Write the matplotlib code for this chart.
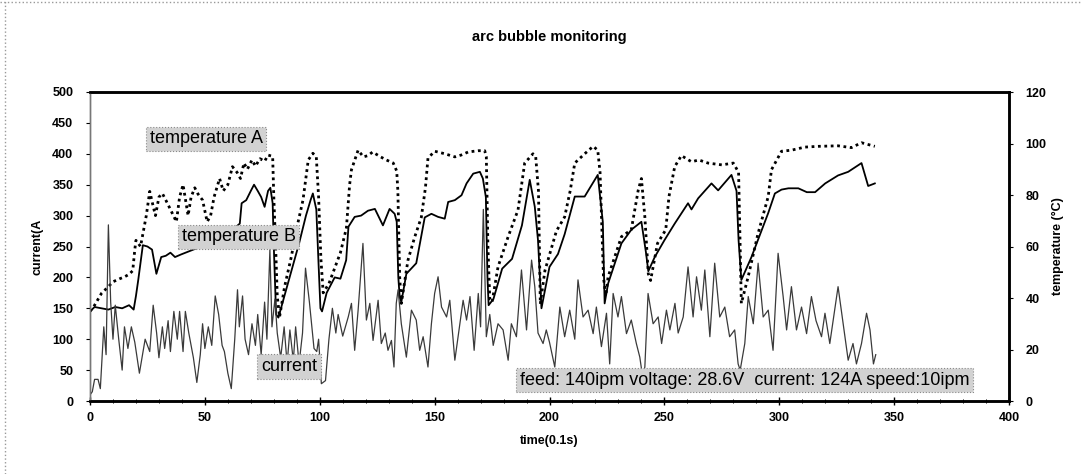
import matplotlib
matplotlib.use("Agg")
import matplotlib.pyplot as plt
from matplotlib.lines import Line2D
from matplotlib.ticker import MultipleLocator

plt.rcParams['font.family'] = ['Liberation Sans', 'DejaVu Sans']

# current (A), left axis -- read peak/trough by peak off the scan
cur_t = [0, 1, 2, 3.5, 4.5, 6, 7, 8, 9, 10, 11, 12.5, 14, 15, 16.5, 18, 19.5, 21.5, 24, 26,
         27.5, 29, 30, 31.5, 32.5, 34, 35, 36.5, 38, 39, 40.5, 41.5, 43, 45, 46.5, 48, 49, 50,
         51.5, 53, 54.5, 56, 57.5, 58.5, 60, 61.5, 63, 64.2, 65, 66.4, 67.5, 69, 70.5, 72, 73,
         74.5, 76, 77, 78.3, 79.2, 80.5, 81.5, 83, 84.5, 85.8, 87, 88.5, 89.5, 91, 92.5, 93.8,
         95.5, 97.5, 98.7, 99.5, 100.7, 102.5, 104, 105.5, 107, 108, 110, 112.4, 113.8, 115.2,
         116.7, 118.8, 120.3, 121.8, 123.2, 125.4, 126.8, 128.5, 129.7, 131.2, 132.3, 133.3,
         134.1, 135.5, 137.7, 139.9, 142, 143.5, 145, 147.1, 148.6, 150, 151.5, 153, 155.2,
         156.6, 158.8, 161, 162.4, 163.9, 165.4, 167.2, 169, 170, 171.2, 172.5, 174, 175.5,
         177.6, 179.8, 182, 183.4, 185.6, 187.8, 190, 192.2, 193.6, 195, 197.2, 198.6, 200,
         202.3, 204.5, 206.6, 208.8, 211, 212.4, 214.6, 216.8, 219, 220.4, 222.6, 224.8, 226.2,
         227.7, 229.8, 231.3, 233.5, 235.6, 237.8, 239.3, 240.5, 241.5, 242.9, 245.1, 247.3,
         248.8, 250.9, 252.4, 254.6, 256, 258.2, 260.3, 262.5, 264, 266.1, 267.6, 269.8, 271.9,
         274.1, 276.3, 278.4, 280.6, 282.1, 283, 285, 286.5, 288.7, 290.8, 293, 295.2, 297.3,
         299.5, 301.7, 303.2, 305.3, 307.5, 309.7, 311.9, 314, 316, 318.4, 319.9, 322, 325.6,
         327.8, 330, 332.1, 333.6, 335.8, 338, 339.5, 341, 342]
cur_a = [10, 15, 35, 35, 20, 120, 75, 285, 160, 100, 155, 100, 50, 120, 85, 120, 95, 45, 100, 80,
         155, 110, 70, 120, 85, 130, 80, 145, 100, 145, 80, 145, 110, 70, 30, 75, 125, 85,
         120, 90, 170, 140, 90, 80, 45, 20, 100, 180, 120, 170, 100, 75, 125, 90, 140,
         75, 160, 100, 245, 120, 165, 110, 70, 120, 60, 115, 65, 120, 60, 110, 215,
         160, 85, 80, 100, 28, 33, 100, 150, 110, 140, 105, 136, 158, 82,
         147, 255, 131, 158, 98, 163, 93, 110, 82, 98, 55, 158,
         180, 125, 71, 147, 131, 82, 104, 55, 125, 174, 201, 152, 136,
         163, 66, 125, 163, 131, 169, 82, 174, 120, 310, 104, 140, 90,
         125, 115, 66, 125, 104, 212, 115, 228, 185, 110, 93, 115, 95,
         55, 152, 104, 147, 100, 196, 136, 147, 109, 152, 88, 142, 60,
         174, 136, 169, 109, 131, 93, 71, 40, 55, 174, 125, 136,
         93, 147, 115, 158, 110, 136, 217, 136, 201, 147, 212, 104, 223,
         136, 152, 104, 115, 60, 50, 93, 169, 125, 223, 136, 147, 82,
         239, 169, 115, 185, 115, 152, 109, 169, 130, 104, 142, 93, 185,
         125, 66, 93, 60, 93, 142, 115, 60, 75]

# temperature A (degC), right axis
ta_t = [0, 2, 5, 8, 10, 13, 15, 17, 18.6, 19.5, 20, 22, 23, 24.5, 26, 27.5, 28.5, 30, 31.5, 33,
        35, 37.6, 39, 40.5, 42.7, 44, 45.6, 47, 49, 51, 52.5, 54, 56.4, 58, 60, 62, 64, 65.5,
        67, 68.5, 70.5, 72, 74, 76, 77.5, 79.5, 80, 80.8, 81.5, 82.5, 84.7, 87.6, 90, 92.7, 95,
        97, 98.5, 99.5, 100.5, 101.5, 104, 106.5, 109, 111.6, 113, 113.8, 116.7, 119, 121, 123,
        126.5, 129, 132, 133.5, 134, 134.8, 135.5, 138.4, 141.3, 144.2, 146, 147.1, 150, 154.5,
        158.8, 161.5, 164.6, 169, 171.8, 172.5, 173.2, 174, 175, 177.6, 182, 186.3, 189.2,
        192.8, 194, 195.2, 196, 198, 203, 206.6, 209, 211, 215.3, 219, 221, 222, 223.5, 224.5,
        225.5, 231.3, 235.6, 238.6, 240, 241.5, 243, 244, 247, 250.6, 252, 254.5, 257.4, 261.8,
        265, 269, 275, 280, 282.3, 283, 283.5, 286.4, 290.7, 295.2, 296.6, 301, 305.3, 311.1,
        317, 325.6, 331.4, 335.8, 341.6]
ta_c = [34.8, 37.2, 41.8, 44.4, 46.3, 47.5, 48.2, 49.2, 50.6, 58.8, 62.4, 60.0, 64.8, 72.0, 81.4,
        75.6, 72.0, 79.2, 80.6, 78.0, 74.4, 69.6, 79.2, 84.0, 72.0, 79.2, 82.8, 80.4, 78.0, 69.6,
        72.0, 79.2, 86.4, 81.6, 84.0, 91.0, 88.8, 86.4, 92.4, 90.0, 93.6, 91.2, 94.1, 93.1, 95.5,
        95.0, 79.2, 60.0, 40.8, 32.6, 44.4, 55.9, 67.2, 78.0, 93.6, 96.2, 94.8, 79.2, 55.2,
        42.0, 45.6, 51.6, 57.6, 67.2, 84.0, 89.8, 97.4, 94.8, 95.3, 96.7, 94.8, 93.6, 92.4,
        89.3, 81.6, 48.0, 37.9, 54.7, 63.6, 71.3, 82.8, 94.3, 97.0, 96.0, 94.8, 95.5, 96.7,
        97.2, 97.2, 94.8, 60.0, 39.6, 38.4, 52.1, 63.8, 74.2, 92.4, 96.0, 94.8, 81.6, 37.7,
        50.6, 66.0, 71.5, 81.6, 92.4, 96.0, 98.9, 97.4, 88.8, 48.0, 40.8, 48.2, 63.8, 66.5,
        81.8, 86.4, 71.5, 49.4, 46.8, 61.2, 66.5, 79.4, 91.0, 95.3, 92.9, 93.6, 92.4, 91.7,
        92.4, 88.8, 60.0, 37.9, 48.0, 64.8, 79.4, 89.8, 97.0, 97.4, 98.6, 98.9, 99.1, 98.4,
        100.3, 98.9]

# temperature B (degC), right axis
tb_t = [0, 2, 5, 8, 11, 14, 17, 19, 20, 21, 23, 25, 27, 28.9, 31, 33, 35, 37, 39.6, 45, 52, 58,
        63, 65.2, 66, 68, 70, 71.4, 73, 74.5, 76, 77.5, 78.5, 79.5, 80, 81, 82, 85, 88, 91, 94,
        96, 97, 98.5, 99.5, 100.3, 101, 103, 106.5, 109, 111.5, 112.5, 115.2, 118, 121, 124,
        127.5, 130.4, 132.6, 133.5, 134.2, 134.8, 135.5, 137.7, 142, 145.7, 148.6, 151.5,
        154.4, 155.9, 158.8, 161.7, 163.9, 166.8, 169.7, 171, 172.3, 173, 173.5, 175.6, 179.4,
        183.7, 188, 191.4, 193.6, 195, 196.5, 200, 203.7, 206.6, 211, 215.3, 221, 223.2, 224,
        225.5, 231.3, 235.6, 240, 242, 243, 245.8, 250, 254.5, 260.3, 261.8, 264.7, 270.5,
        273.4, 279.2, 281.4, 282.3, 283.5, 287.9, 295.2, 298.1, 301, 304, 308.3, 312, 315.6,
        320, 325.6, 330, 335.8, 338.7, 341.6]
tb_c = [34.8, 36.5, 36.0, 35.5, 36.5, 36.0, 37.2, 35.5, 40.8, 47.0, 60.5, 60.0, 58.8, 49.4, 55.9,
        56.4, 57.6, 55.9, 56.9, 58.8, 61.2, 63.6, 67.2, 68.9, 76.8, 78.0, 81.6, 84.0, 81.6,
        79.2, 75.4, 81.6, 82.8, 76.8, 60.0, 33.6, 32.4, 42.0, 51.6, 61.2, 72.0, 78.0, 80.6,
        74.4, 52.8, 36.0, 34.8, 42.0, 48.0, 47.5, 54.7, 67.7, 71.5, 72.0, 73.9, 74.6, 68.2,
        74.6, 72.7, 69.6, 48.0, 40.3, 38.4, 49.4, 53.5, 71.3, 72.7, 71.5, 70.8, 77.3, 78.0,
        79.9, 84.5, 88.3, 89.0, 86.4, 79.2, 48.0, 37.2, 39.6, 51.4, 55.2, 68.2, 85.9, 75.4,
        62.4, 36.0, 52.1, 57.1, 64.8, 79.4, 79.4, 87.8, 69.6, 37.9, 45.6, 61.2, 66.5, 69.6,
        57.6, 50.4, 55.9, 62.4, 68.9, 76.8, 74.4, 78.7, 84.5, 81.8, 87.8, 81.6, 62.4, 47.0,
        55.9, 73.0, 80.6, 82.1, 82.6, 82.6, 81.1, 81.1, 84.5, 87.6, 89.0, 92.4, 83.5, 84.5]

fig = plt.figure(figsize=(10.81, 4.74), dpi=100)
ax = fig.add_axes([90 / 1081, 1 - 401 / 474, 919 / 1081, 309 / 474])
ax2 = ax.twinx()

ax.plot(cur_t, cur_a, color='#3a3a3a', lw=0.9, zorder=2)
ax2.plot(ta_t, ta_c, color='black', lw=2.0, linestyle=(0, (1, 1.3)), zorder=3)
ax2.plot(tb_t, tb_c, color='black', lw=1.3, zorder=3)

ax.set_xlim(0, 400)
ax.set_ylim(0, 500)
ax2.set_ylim(0, 120)
ax.xaxis.set_major_locator(MultipleLocator(50))
ax.xaxis.set_minor_locator(MultipleLocator(10))
ax.yaxis.set_major_locator(MultipleLocator(50))
ax2.yaxis.set_major_locator(MultipleLocator(20))

ax.tick_params(axis='x', which='major', direction='inout', length=6, width=1, pad=5)
ax.tick_params(axis='x', which='minor', direction='inout', length=3, width=0.7)
ax.tick_params(axis='y', direction='out', length=3, width=0.8, pad=9)
ax2.tick_params(axis='y', direction='out', length=3, width=0.8, pad=9)
for lab in ax.get_xticklabels() + ax.get_yticklabels() + ax2.get_yticklabels():
    lab.set_fontsize(9)
    lab.set_fontweight('bold')

for a in (ax, ax2):
    a.spines['top'].set_linewidth(1.8)
    a.spines['bottom'].set_linewidth(1.8)
    a.spines['right'].set_linewidth(1.8)
    a.spines['left'].set_linewidth(1.0)
    a.spines['left'].set_color('#777777')

ax.set_xlabel('time(0.1s)', fontsize=9, fontweight='bold', labelpad=8)
ax.set_ylabel('current(A', fontsize=9, fontweight='bold', labelpad=6)
ax2.set_ylabel('temperature (°C)', fontsize=9, fontweight='bold', labelpad=4)
ax.set_title('arc bubble monitoring', fontsize=10.5, fontweight='bold', pad=37)

box = dict(boxstyle='square,pad=0.2', fc='#d2d2d2', ec='#8a8a8a', lw=0.8, ls=':')
ax.text(50.5, 424, 'temperature A', fontsize=13, ha='center', va='center', bbox=box, zorder=5)
ax.text(64.8, 266, 'temperature B', fontsize=13, ha='center', va='center', bbox=box, zorder=5)
ax.text(86.6, 56, 'current', fontsize=13, ha='center', va='center', bbox=box, zorder=5)
ax.text(285, 33.5, 'feed: 140ipm voltage: 28.6V  current: 124A speed:10ipm', fontsize=13,
        ha='center', va='center', bbox=box, zorder=5)
ax.set_zorder(ax2.get_zorder() + 1)
ax.patch.set_visible(False)

fig.add_artist(Line2D([5 / 1081, 5 / 1081], [0, 1], color='#999999', lw=1, ls=':'))
fig.add_artist(Line2D([0, 1], [1 - 2 / 474, 1 - 2 / 474], color='#999999', lw=1, ls=':'))

fig.savefig('out.png', dpi=100)
